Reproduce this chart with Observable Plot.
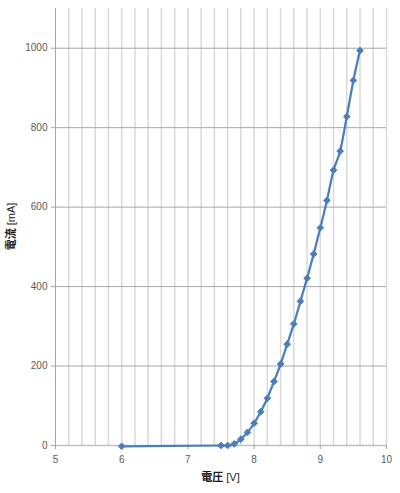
<!DOCTYPE html>
<html>
<head>
<meta charset="utf-8">
<script src="https://cdn.jsdelivr.net/npm/d3@7"></script>
<script src="https://cdn.jsdelivr.net/npm/@observablehq/plot@0.6"></script>
<style>
  html, body { margin: 0; padding: 0; background: #fff; }
  #chart svg { display: block; }
</style>
</head>
<body>
<div id="chart"></div>
<script>
const voltage = [6, 7.5, 7.6, 7.7, 7.8, 7.9, 8.0, 8.1, 8.2, 8.3, 8.4, 8.5, 8.6, 8.7, 8.8, 8.9, 9.0, 9.1, 9.2, 9.3, 9.4, 9.5, 9.6];
const current = [-2, 0, 0, 4, 16, 33, 56, 85, 119, 161, 205, 255, 306, 363, 421, 482, 548, 617, 693, 741, 828, 919, 994];
const xTicks = [5, 6, 7, 8, 9, 10];
const xGrid = [5.2, 5.4, 5.6, 5.8, 6, 6.2, 6.4, 6.6, 6.8, 7, 7.2, 7.4, 7.6, 7.8, 8, 8.2, 8.4, 8.6, 8.8, 9, 9.2, 9.4, 9.6, 9.8, 10];
const yTicks = [0, 200, 400, 600, 800, 1000];
const xLabelBold = "電圧", xLabelUnit = " [V]";
const yLabelBold = "電流", yLabelUnit = " [mA]";

const data = voltage.map((v, i) => ({v, c: current[i]}));

const W = 400, H = 493;
const fmt = d => String(d);
const chart = Plot.plot({
  width: W, height: H,
  marginLeft: 55, marginRight: 14, marginTop: 8, marginBottom: 48,
  style: {fontFamily: "Liberation Sans, Arial, sans-serif", fontSize: "10px", color: "#595959", background: "#fff"},
  x: {domain: [5, 10], label: null},
  y: {domain: [0, 1100], label: null},
  marks: [
    Plot.gridX(xGrid, {stroke: "#d9d9d9", strokeOpacity: 1, strokeWidth: 1.5}),
    Plot.gridY(yTicks, {stroke: "#a6a6a6", strokeOpacity: 1, strokeWidth: 1}),
    Plot.ruleX([5], {stroke: "#a6a6a6", strokeWidth: 1}),
    Plot.ruleY([0], {stroke: "#bfbfbf", strokeWidth: 1.5}),
    Plot.axisX({ticks: xTicks, tickFormat: fmt, tickSize: 4, stroke: "#a6a6a6", fill: "#595959", tickPadding: 6, label: null}),
    Plot.axisY({ticks: yTicks, tickFormat: fmt, tickSize: 4, stroke: "#a6a6a6", fill: "#595959", tickPadding: 4, label: null}),
    Plot.line(data, {x: "v", y: "c", stroke: "#4a7ebb", strokeWidth: 2.25, curve: "monotone-x"}),
    Plot.dot(data, {x: "v", y: "c", symbol: "diamond2", r: 3, fill: "#4a7ebb", stroke: "#4a7ebb", strokeWidth: 1})
  ]
});

const svg = d3.select(chart);
const xl = svg.append("text")
  .attr("x", (55 + (W - 14)) / 2).attr("y", 481)
  .attr("text-anchor", "middle")
  .attr("fill", "#1a1a1a")
  .style("font-family", "'Noto Sans CJK JP', 'Liberation Sans', sans-serif")
  .style("font-size", "11px");
xl.append("tspan").attr("font-weight", "bold").text(xLabelBold);
xl.append("tspan").attr("font-weight", "normal").style("font-family", "'Liberation Sans', sans-serif").text(xLabelUnit);

const cy = (8 + (H - 48)) / 2;
const yl = svg.append("text")
  .attr("transform", `translate(15,${cy}) rotate(-90)`)
  .attr("text-anchor", "middle")
  .attr("fill", "#1a1a1a")
  .style("font-family", "'Noto Sans CJK JP', 'Liberation Sans', sans-serif")
  .style("font-size", "11px");
yl.append("tspan").attr("font-weight", "bold").text(yLabelBold);
yl.append("tspan").attr("font-weight", "normal").style("font-family", "'Liberation Sans', sans-serif").text(yLabelUnit);

document.getElementById("chart").appendChild(chart);
</script>
</body>
</html>
